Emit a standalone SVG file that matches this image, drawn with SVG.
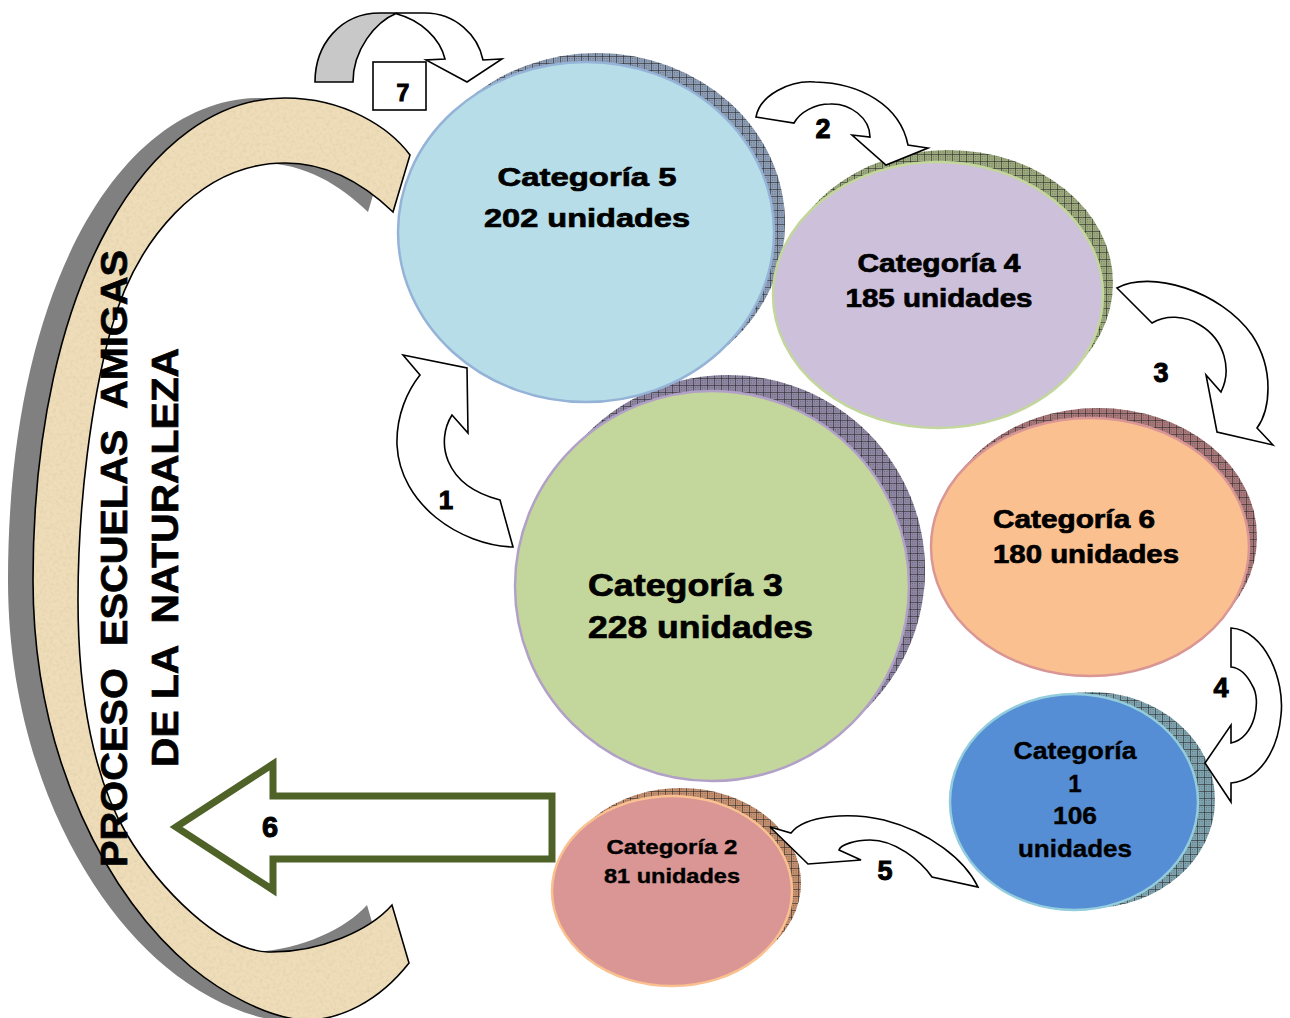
<svg xmlns="http://www.w3.org/2000/svg" width="1290" height="1018" viewBox="0 0 1290 1018">
<style>
.t{font-family:"Liberation Sans",Arial,sans-serif;font-weight:bold;fill:#000;stroke:#000;stroke-width:0.7}
.nw{font-family:"Liberation Sans Narrow","Liberation Sans",Arial,sans-serif;font-weight:bold;fill:#000;stroke:#000;stroke-width:0.4}
.arr{fill:#fff;stroke:#000;stroke-width:1.6;stroke-linejoin:miter}
.hatch{fill:url(#grid)}
.lbl{font-family:"Liberation Sans",Arial,sans-serif;font-weight:bold;fill:#000;stroke:#000;stroke-width:1;text-anchor:middle}
</style>
<defs>
<pattern id="grid" patternUnits="userSpaceOnUse" width="7" height="7">
<rect width="7" height="7" fill="none"/>
<path d="M0,0.5H7M0.5,0V7" stroke="#2b2b2b" stroke-opacity="0.6" stroke-width="1"/>
<path d="M2,2h1v1h-1zM4.5,4.5h1v1h-1zM2,4.5h1v1h-1zM4.5,2h1v1h-1z" fill="#000" fill-opacity="0.25"/>
</pattern>
<filter id="paper" x="0" y="0" width="1" height="1">
<feTurbulence type="fractalNoise" baseFrequency="0.3" numOctaves="3" seed="7" result="n"/>
<feColorMatrix in="n" type="matrix" values="0 0 0 0 0.72  0 0 0 0 0.6  0 0 0 0 0.4  1.3 0 0 0 -0.55" result="c"/>
<feComposite in="c" in2="SourceGraphic" operator="in" result="tx"/>
<feMerge><feMergeNode in="SourceGraphic"/><feMergeNode in="tx"/></feMerge>
</filter>
<path id="band" d="M410,155 C390,128 345,98 285,98 C150,98 33,280 33,580 C33,760 110,900 191,967 C225,995 265,1015 300,1020 C340,1022 380,1000 409,963 L392,905 C370,930 320,953 268,952 C220,950 160,890 126,833 C95,780 78,700 78,600 C78,500 92,400 110,333 C135,240 200,163 285,163 C330,163 365,185 393,212 Z"/>
</defs>
<rect width="1290" height="1018" fill="#fff"/>

<g id="proceso">
<use href="#band" transform="translate(-25,0)" fill="#808080"/>
<use href="#band" fill="#EEDDB8" filter="url(#paper)"/>
<use href="#band" fill="none" stroke="#000" stroke-width="1.6"/>
<text class="t" transform="translate(127,867) rotate(-90)" font-size="37" stroke-width="1.2" textLength="617" lengthAdjust="spacingAndGlyphs" style="white-space:pre">PROCESO  ESCUELAS  AMIGAS</text>
<text class="t" transform="translate(178,767) rotate(-90)" font-size="37" stroke-width="1.2" textLength="419" lengthAdjust="spacingAndGlyphs" style="white-space:pre">DE LA  NATURALEZA</text>
</g>

<g id="cat3">
<ellipse cx="728" cy="570" rx="197" ry="195" fill="#8F87A3"/>
<ellipse cx="728" cy="570" rx="197" ry="195" class="hatch"/>
<ellipse cx="712" cy="586" rx="197" ry="195" fill="#C3D69B" stroke="#B2A1C7" stroke-width="2.5"/>
<text class="t" x="588" y="596" font-size="31" textLength="195" lengthAdjust="spacingAndGlyphs">Categoría 3</text>
<text class="t" x="588" y="638" font-size="31" textLength="225" lengthAdjust="spacingAndGlyphs">228 unidades</text>
</g>

<g id="cat5">
<ellipse cx="597" cy="223" rx="188" ry="170" fill="#8C9DB5"/>
<ellipse cx="597" cy="223" rx="188" ry="170" class="hatch"/>
<ellipse cx="586" cy="232" rx="188" ry="170" fill="#B7DDE8" stroke="#95B3D7" stroke-width="2.5"/>
<text class="t" x="587" y="186" font-size="26" text-anchor="middle" textLength="179" lengthAdjust="spacingAndGlyphs">Categoría 5</text>
<text class="t" x="587" y="227" font-size="26" text-anchor="middle" textLength="206" lengthAdjust="spacingAndGlyphs">202 unidades</text>
</g>

<g id="cat4">
<ellipse cx="948" cy="283" rx="165" ry="133" fill="#9CAA7E"/>
<ellipse cx="948" cy="283" rx="165" ry="133" class="hatch"/>
<ellipse cx="938" cy="295" rx="165" ry="133" fill="#CCC0DA" stroke="#C3D69B" stroke-width="2.5"/>
<text class="t" x="939" y="272" font-size="25" text-anchor="middle" textLength="163" lengthAdjust="spacingAndGlyphs">Categoría 4</text>
<text class="t" x="939" y="307" font-size="25" text-anchor="middle" textLength="187" lengthAdjust="spacingAndGlyphs">185 unidades</text>
</g>

<g id="cat6">
<ellipse cx="1098" cy="537" rx="159" ry="129" fill="#A9787A"/>
<ellipse cx="1098" cy="537" rx="159" ry="129" class="hatch"/>
<ellipse cx="1090" cy="547" rx="159" ry="129" fill="#FAC090" stroke="#D99694" stroke-width="2.5"/>
<text class="t" x="993" y="528" font-size="25" textLength="162" lengthAdjust="spacingAndGlyphs">Categoría 6</text>
<text class="t" x="993" y="563" font-size="25" textLength="186" lengthAdjust="spacingAndGlyphs">180 unidades</text>
</g>

<g id="cat1">
<ellipse cx="1091" cy="800" rx="124" ry="108" fill="#7FA3AE"/>
<ellipse cx="1091" cy="800" rx="124" ry="108" class="hatch"/>
<ellipse cx="1074" cy="802" rx="124" ry="108" fill="#558ED5" stroke="#93CDDD" stroke-width="2.5"/>
<text class="nw" x="1075" y="759" font-size="24" text-anchor="middle" textLength="123" lengthAdjust="spacingAndGlyphs">Categoría</text>
<text class="nw" x="1075" y="792" font-size="24" text-anchor="middle">1</text>
<text class="nw" x="1075" y="824" font-size="24" text-anchor="middle" textLength="44" lengthAdjust="spacingAndGlyphs">106</text>
<text class="nw" x="1075" y="857" font-size="24" text-anchor="middle" textLength="114" lengthAdjust="spacingAndGlyphs">unidades</text>
</g>

<g id="cat2">
<ellipse cx="681" cy="883" rx="120" ry="95" fill="#C49070"/>
<ellipse cx="681" cy="883" rx="120" ry="95" class="hatch"/>
<ellipse cx="672" cy="891" rx="120" ry="95" fill="#D99694" stroke="#FAC090" stroke-width="2.5"/>
<text class="nw" x="672" y="854" font-size="21" text-anchor="middle" textLength="131" lengthAdjust="spacingAndGlyphs">Categoría 2</text>
<text class="nw" x="672" y="883" font-size="21" text-anchor="middle" textLength="136" lengthAdjust="spacingAndGlyphs">81 unidades</text>
</g>

<g id="connectors">
<!-- 7 -->
<path d="M315,82 C315,45 340,13 380,13 L397,13 C375,22 353,50 353,82 Z" fill="#C8C8C8" stroke="#000" stroke-width="1.6"/>
<path class="arr" d="M397,13 L425,13 C455,13 478,35 483,60 L502,59 L467,82 L426,60 L445,59 C440,38 420,20 397,14 Z"/>
<rect x="373" y="62" width="53" height="48" fill="#fff" stroke="#000" stroke-width="1.6"/>
<text class="lbl" x="403" y="101" font-size="23">7</text>
<!-- 1 -->
<path class="arr" d="M403,355 L467,368 L468,433 L452,415 C436,440 442,485 500,500 L513,547 C460,545 400,505 397,445 C396,415 408,390 420,375 Z"/>
<text class="lbl" x="446" y="509" font-size="26">1</text>
<!-- 2 -->
<path class="arr" d="M756,117 C760,95 790,80 815,82 C860,83 900,105 908,145 L928,148 L886,165 L852,135 L870,137 C870,118 850,103 830,104 C815,104 800,112 794,123 Z"/>
<text class="lbl" x="823" y="138" font-size="27">2</text>
<!-- 3 -->
<path class="arr" d="M1117,288 C1150,270 1220,290 1252,335 C1275,370 1270,410 1257,428 L1273,445 L1217,432 L1206,375 L1221,392 C1232,370 1225,340 1200,325 C1185,315 1165,315 1152,323 Z"/>
<text class="lbl" x="1161" y="382" font-size="27">3</text>
<!-- 4 -->
<path class="arr" d="M1231,628 C1265,630 1285,680 1281,715 C1278,750 1260,780 1231,783 L1231,802 L1205,763 L1231,725 L1231,743 C1255,738 1262,700 1252,685 C1247,675 1240,668 1231,667 Z"/>
<text class="lbl" x="1221" y="697" font-size="27">4</text>
<!-- 5 -->
<path class="arr" d="M770,827 L791,833 C805,815 850,812 884,820 C930,832 965,860 978,887 L932,877 C920,860 895,840 870,840 C855,840 840,845 839,850 L861,860 L808,864 Z"/>
<text class="lbl" x="885" y="880" font-size="27">5</text>
<!-- 6 -->
<path d="M176,827 L273,764 L273,796 L552,796 L552,859 L273,859 L273,890 Z" fill="#fff" stroke="#4F6228" stroke-width="7" stroke-linejoin="miter"/>
<text class="lbl" x="270" y="837" font-size="29">6</text>
</g>
</svg>
